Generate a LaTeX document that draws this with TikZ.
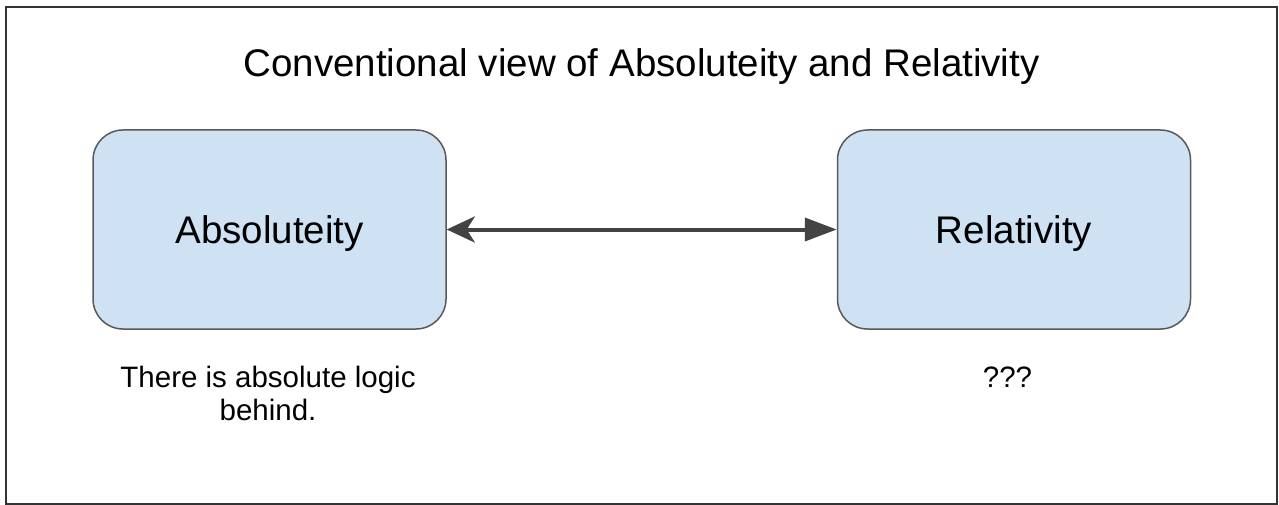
\documentclass[tikz,border=0pt]{standalone}
\usepackage{fontspec}
\setmainfont{Liberation Sans}
\usetikzlibrary{arrows.meta}
\definecolor{boxfill}{HTML}{CFE2F3}
\definecolor{boxline}{HTML}{595959}
\definecolor{arrowgray}{HTML}{434343}
\definecolor{framegray}{HTML}{333333}
\begin{document}
\begin{tikzpicture}[x=1pt,y=-1pt,
  concept/.style={draw=boxline, fill=boxfill, line width=1.5pt, rounded corners=30pt,
    minimum width=353pt, minimum height=199pt, inner sep=0pt, text depth=0pt,
    font=\fontsize{38.5}{44}\selectfont},
  caption/.style={align=center, inner sep=0pt,
    font=\fontsize{29.5}{33.5}\selectfont},
  link/.style={draw=arrowgray, line width=4pt,
    {Stealth[length=28pt, width=26pt, inset=8pt]}-{Triangle[length=32pt, width=23pt]}}]
  \useasboundingbox (0,0) rectangle (1279,505);
  % outer frame
  \draw[framegray, line width=2pt] (6,7) rectangle (1277,504);
  % heading
  \node[anchor=base, inner sep=0pt, font=\fontsize{38.5}{44}\selectfont] (title) at (641.5,77)
    {Conventional view of Absoluteity and Relativity};
  % the two concepts
  \node[concept] (abs) at (269.5,229.5) {Absoluteity};
  \node[concept] (rel) at (1014,229.5) {Relativity};
  % connector between them
  \draw[link] (abs.east) -- (rel.west);
  % captions under the boxes
  \node[caption, anchor=north] (absnote) at (268,365.5) {There is absolute logic\\behind.};
  \node[caption, anchor=base] (relnote) at (1007.5,387) {???};
\end{tikzpicture}
\end{document}
